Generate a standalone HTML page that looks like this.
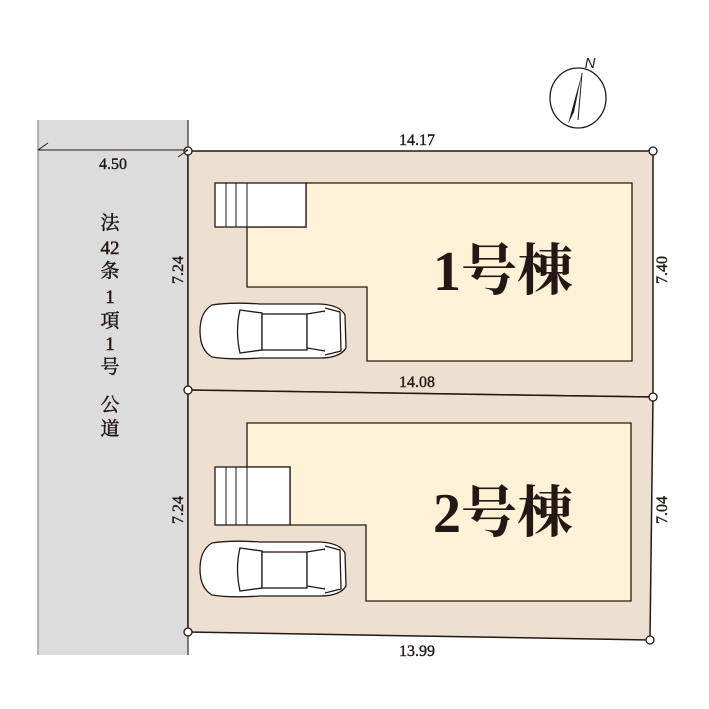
<!DOCTYPE html>
<html><head><meta charset="utf-8"><style>body{margin:0;background:#fff}svg{display:block}</style></head><body>
<svg width="709" height="709" viewBox="0 0 709 709" xmlns="http://www.w3.org/2000/svg" font-family="'Liberation Serif','Noto Serif CJK SC',serif" fill="#231815">
<rect x="38" y="120" width="150" height="535" fill="#dcdcdc"/>
<line x1="38" y1="120" x2="38" y2="655" stroke="#777" stroke-width="1"/>
<line x1="188" y1="120" x2="188" y2="655" stroke="#555" stroke-width="1.5"/>
<polygon points="188,151 653,151 653,397 188,390" fill="#ede0d0" stroke="#231815" stroke-width="1.5"/>
<polygon points="188,390 653,397 650,640 188,632" fill="#ede0d0" stroke="#231815" stroke-width="1.5"/>
<polygon points="306,183 632,183 632,361 367,361 367,287 247,287 247,227 306,227" fill="#fff2d6" stroke="#231815" stroke-width="1.3"/>
<rect x="215" y="183" width="91" height="44" fill="#fff" stroke="#231815" stroke-width="1.3"/>
<line x1="226" y1="183" x2="226" y2="227" stroke="#231815"/><line x1="236" y1="183" x2="236" y2="227" stroke="#231815"/><line x1="247" y1="183" x2="247" y2="227" stroke="#231815"/>
<polygon points="247,423 631,423 631,601 366,601 366,525 290,525 290,467 247,467" fill="#fff2d6" stroke="#231815" stroke-width="1.3"/>
<rect x="215" y="467" width="75" height="58" fill="#fff" stroke="#231815" stroke-width="1.3"/>
<line x1="226" y1="467" x2="226" y2="525" stroke="#231815"/><line x1="236" y1="467" x2="236" y2="525" stroke="#231815"/><line x1="247" y1="467" x2="247" y2="525" stroke="#231815"/>
<g id="car" fill="#fff" stroke="#231815" stroke-width="1.3">
<path d="M212,305 Q230,302 260,304 L320,304 Q340,305 345,315 L346,348 Q340,358 320,358 L260,358 Q230,360 212,357 Q200,350 200,331 Q200,312 212,305Z"/>
<path d="M240,310 L262,313 L262,350 L240,353 Q235,331 240,310Z"/>
<rect x="262" y="314" width="45" height="36"/>
<path d="M307,314 L325,311 Q331,331 325,351 L307,348Z"/>
<path d="M325,308 L340,312 L341,351 L325,355"/>
</g>
<use href="#car" y="238"/>
<g fill="#fff" stroke="#231815" stroke-width="1.3">
<circle cx="188" cy="151" r="4"/><circle cx="653" cy="151" r="4"/><circle cx="188" cy="390" r="4"/><circle cx="653" cy="397" r="4"/><circle cx="188" cy="632" r="4"/><circle cx="650" cy="640" r="4"/>
</g>
<line x1="38" y1="150" x2="188" y2="150" stroke="#231815"/>
<line x1="38" y1="150" x2="48" y2="143" stroke="#231815"/><line x1="178" y1="157" x2="188" y2="150" stroke="#231815"/>
<g font-size="16" text-anchor="middle" stroke="#231815" stroke-width="0.4">
<text x="113" y="169">4.50</text>
<text x="417" y="145">14.17</text>
<text x="417" y="387">14.08</text>
<text x="417" y="656">13.99</text>
<text transform="translate(183,270) rotate(-90)">7.24</text>
<text transform="translate(667,270) rotate(-90)">7.40</text>
<text transform="translate(183,510) rotate(-90)">7.24</text>
<text transform="translate(667,510) rotate(-90)">7.04</text>
</g>
<g font-size="19" text-anchor="middle" stroke="#231815" stroke-width="0.5">
<text x="110" y="229">法</text><text x="110" y="254">42</text><text x="110" y="277">条</text><text x="110" y="303">1</text><text x="110" y="327">項</text><text x="110" y="350">1</text><text x="110" y="373">号</text><text x="110" y="411">公</text><text x="110" y="435">道</text>
</g>
<g font-size="56" font-weight="bold" text-anchor="middle">
<text x="503" y="290">1号棟</text>
<text x="503" y="532">2号棟</text>
</g>
<ellipse cx="578" cy="98" rx="28" ry="30" fill="none" stroke="#231815" stroke-width="1.3"/>
<polygon points="582,73 568,124 574,112" fill="#231815"/>
<line x1="582" y1="73" x2="578" y2="120" stroke="#231815"/>
<text x="590" y="68" font-family="'Liberation Sans',sans-serif" font-size="15" font-style="italic" text-anchor="middle">N</text>
</svg>
</body></html>
